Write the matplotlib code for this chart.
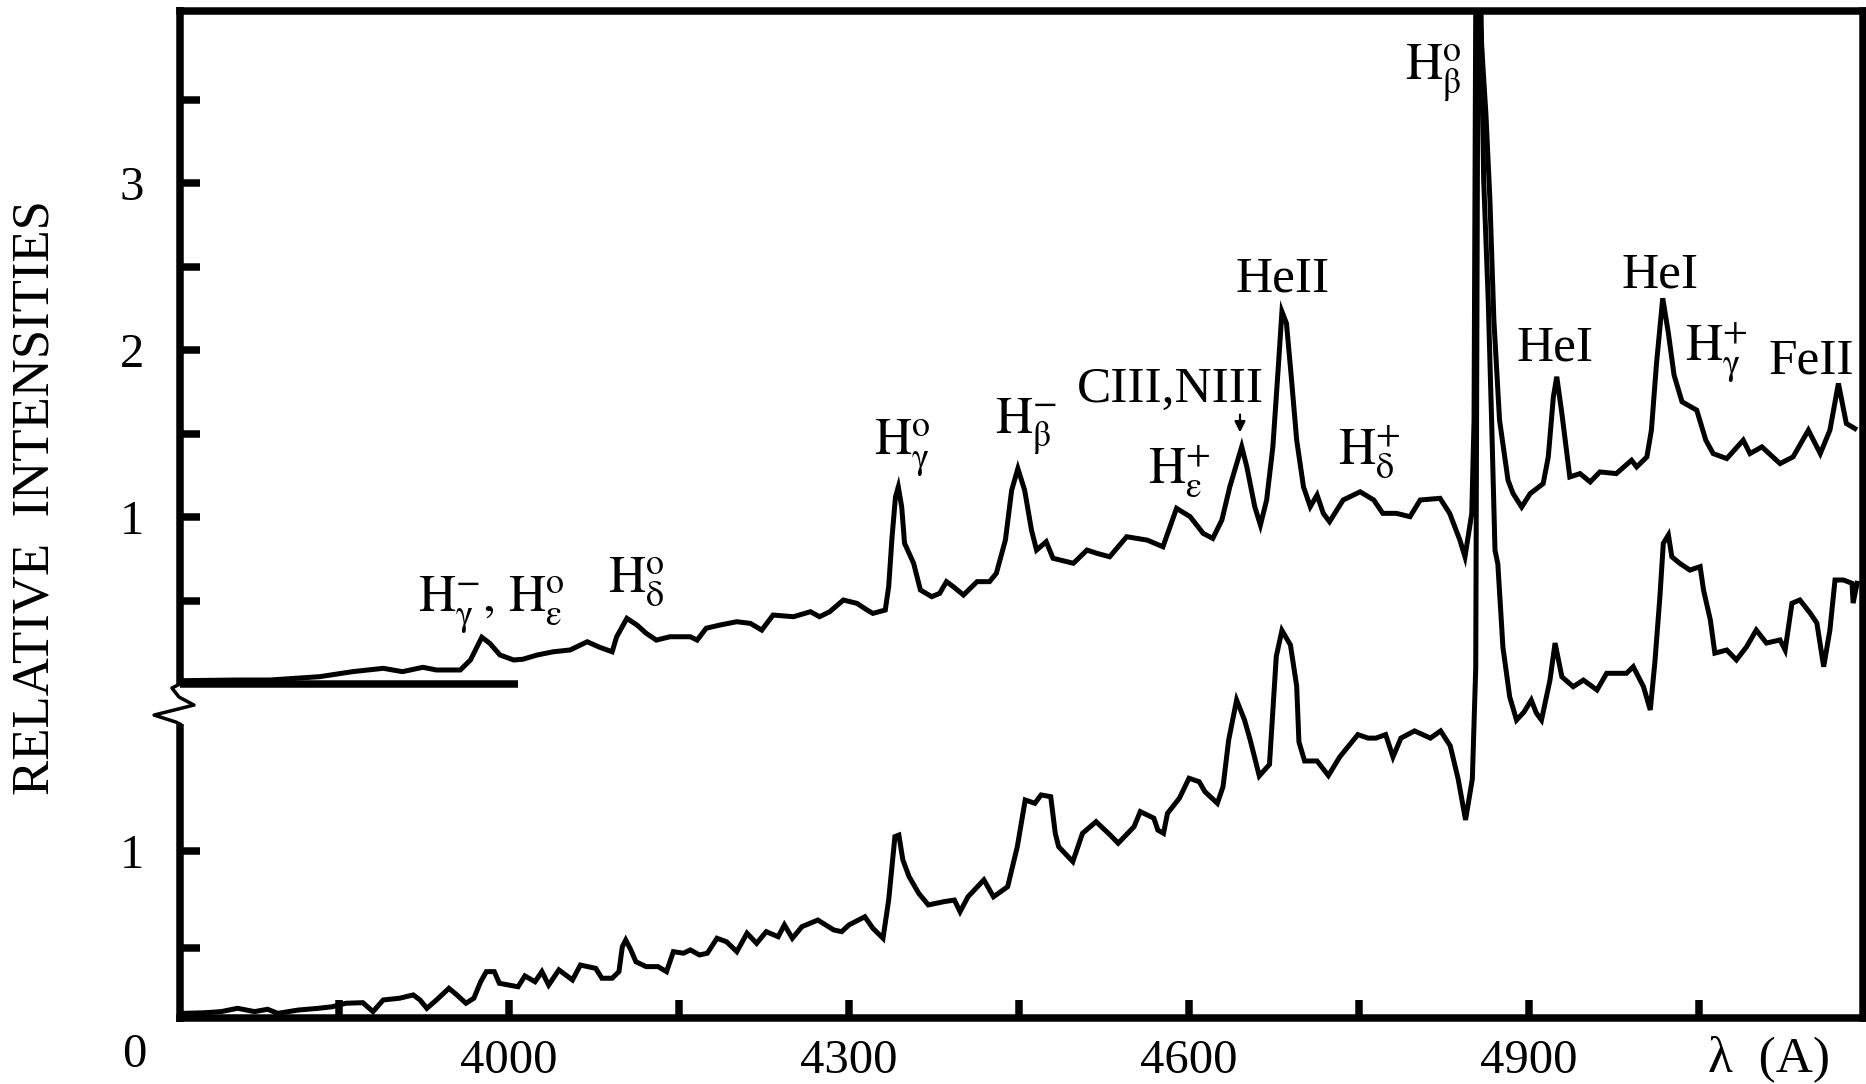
import matplotlib.pyplot as plt
from matplotlib.transforms import blended_transform_factory

plt.rcParams["font.family"] = ["Liberation Serif", "DejaVu Serif"]
plt.rcParams["mathtext.fontset"] = "stix"

# upper spectrum (own intensity scale, drawn above the break)
wl_upper = [3712, 3760, 3789, 3833, 3862, 3889, 3906, 3924, 3936, 3957, 3966, 3976,
            3983, 3992, 4004, 4012, 4025, 4039, 4054, 4069, 4080, 4091, 4095, 4104,
            4113, 4121, 4130, 4142, 4160, 4166, 4174, 4186, 4201, 4213, 4223, 4233,
            4251, 4266, 4274, 4283, 4295, 4307, 4316, 4321, 4332, 4335, 4338, 4341,
            4343.5, 4346.5, 4349, 4357, 4363, 4373, 4380, 4386, 4392, 4401, 4413, 4424,
            4430, 4438, 4443.5, 4449, 4455, 4461, 4465.5, 4474, 4480, 4498, 4510, 4518.5,
            4530, 4545, 4563, 4577, 4589, 4601, 4612.5, 4621, 4629, 4636, 4646.5, 4651,
            4658, 4663, 4668.5, 4674, 4679, 4682, 4686, 4690.5, 4695, 4701, 4707, 4713,
            4718.5, 4724, 4736, 4751, 4763, 4771, 4783, 4795, 4804, 4821.5, 4830, 4839,
            4843.5, 4849.5, 4851.5, 4853, 4856, 4862, 4865.5, 4869, 4874, 4881.5, 4886,
            4893.5, 4901, 4912.5, 4917, 4921.5, 4924.5, 4929, 4936, 4945, 4954, 4962.5,
            4977, 4990.5, 4995, 5004, 5008, 5012.5, 5018, 5023, 5028, 5035, 5048, 5056,
            5062.5, 5074.5, 5089, 5095, 5105.5, 5121.5, 5133, 5146.5, 5157, 5165.5, 5173,
            5180, 5187.5]
int_upper = [0.02, 0.024, 0.024, 0.044, 0.074, 0.094, 0.074, 0.10, 0.084, 0.084, 0.144, 0.28,
             0.244, 0.174, 0.144, 0.148, 0.174, 0.193, 0.204, 0.253, 0.22, 0.193, 0.283, 0.393,
             0.353, 0.304, 0.263, 0.283, 0.283, 0.263, 0.334, 0.353, 0.373, 0.363, 0.323, 0.413,
             0.403, 0.433, 0.403, 0.433, 0.503, 0.483, 0.443, 0.423, 0.443, 0.583, 0.882, 1.12,
             1.18, 1.06, 0.843, 0.723, 0.563, 0.523, 0.543, 0.613, 0.583, 0.533, 0.613, 0.613,
             0.663, 0.862, 1.16, 1.29, 1.16, 0.922, 0.802, 0.852, 0.753, 0.723, 0.802, 0.783,
             0.762, 0.882, 0.862, 0.822, 1.052, 1.002, 0.902, 0.872, 0.982, 1.181, 1.421, 1.301,
             1.062, 0.952, 1.102, 1.421, 1.92, 2.23, 2.16, 1.82, 1.461, 1.181, 1.062, 1.132,
             1.022, 0.972, 1.102, 1.151, 1.102, 1.022, 1.022, 1.002, 1.102, 1.112, 1.022, 0.862,
             0.762, 1.022, 1.58, 4.06, 4.06, 3.41, 2.9, 2.18, 1.58, 1.22, 1.14,
             1.06, 1.14, 1.20, 1.36, 1.72, 1.84, 1.62, 1.24, 1.26, 1.21, 1.27,
             1.26, 1.34, 1.30, 1.36, 1.52, 1.92, 2.31, 2.10, 1.85, 1.69, 1.64, 1.46,
             1.38, 1.35, 1.46, 1.38, 1.42, 1.32, 1.36, 1.52, 1.38, 1.52, 1.80,
             1.56, 1.53]

# lower spectrum
wl_lower = [3713, 3731, 3746, 3760.5, 3775.5, 3787, 3796, 3814, 3832, 3844, 3856, 3871,
            3880, 3889, 3903.5, 3915.5, 3921.5, 3927.5, 3936, 3947, 3954, 3962, 3969, 3975,
            3980, 3987, 3991.5, 4008, 4014, 4023, 4029, 4035, 4044, 4056, 4063, 4076.5,
            4082, 4091, 4097, 4100, 4103, 4107.5, 4112, 4121, 4131.5, 4139, 4145, 4154,
            4160, 4168, 4175, 4183.5, 4192, 4201, 4210, 4218.5, 4227, 4237.5, 4243, 4250,
            4258.5, 4272.5, 4286.5, 4293.5, 4300, 4314, 4321, 4330, 4335, 4340.5, 4344,
            4347.5, 4353, 4361.5, 4370, 4384, 4393, 4398, 4405, 4419, 4427.5, 4440, 4448.5,
            4455.5, 4464, 4469.5, 4478, 4482, 4485, 4497.5, 4506, 4518, 4530.5, 4537.5,
            4551.5, 4557, 4569, 4572.5, 4577.5, 4581, 4591.5, 4600, 4609, 4614, 4625, 4630,
            4635, 4642, 4649, 4654, 4662, 4671, 4677, 4682, 4689.5, 4695, 4697, 4702, 4713,
            4723, 4733, 4749, 4758, 4765, 4773.5, 4780, 4787, 4799, 4813, 4822, 4830.5,
            4837.5, 4844, 4850, 4853, 4855, 4857.5, 4860, 4864, 4867, 4870, 4872.5, 4877,
            4883, 4889, 4895.5, 4902, 4906.5, 4911, 4918.5, 4923, 4929, 4939, 4948, 4960,
            4968.5, 4986, 4992, 5001, 5007, 5011, 5015.5, 5018.5, 5023, 5026, 5033, 5042,
            5051, 5054, 5060, 5064, 5074.5, 5083, 5092, 5100.5, 5109.5, 5121.5, 5126, 5132,
            5139, 5148, 5154, 5160, 5165.5, 5170, 5177.5, 5185, 5186, 5189.5]
int_lower = [0.163, 0.166, 0.172, 0.189, 0.172, 0.184, 0.163, 0.180, 0.189, 0.197, 0.215, 0.218,
             0.172, 0.232, 0.241, 0.258, 0.232, 0.189, 0.232, 0.292, 0.258, 0.215, 0.241, 0.326,
             0.378, 0.378, 0.318, 0.30, 0.356, 0.326, 0.378, 0.309, 0.387, 0.335, 0.412, 0.395,
             0.344, 0.344, 0.378, 0.507, 0.541, 0.49, 0.429, 0.404, 0.404, 0.378, 0.481, 0.473,
             0.49, 0.464, 0.473, 0.55, 0.532, 0.481, 0.576, 0.524, 0.584, 0.558, 0.619, 0.55,
             0.61, 0.644, 0.593, 0.584, 0.619, 0.661, 0.602, 0.55, 0.747, 1.074, 1.082,
             0.954, 0.868, 0.782, 0.722, 0.739, 0.747, 0.687, 0.764, 0.851, 0.764, 0.816, 1.022,
             1.263, 1.246, 1.289, 1.28, 1.091, 1.022, 0.945, 1.091, 1.151, 1.082, 1.04,
             1.125, 1.203, 1.169, 1.108, 1.091, 1.194, 1.272, 1.375, 1.357, 1.306, 1.246, 1.331,
             1.572, 1.778, 1.675, 1.572, 1.387, 1.446, 2.003, 2.137, 2.062, 1.85, 1.562, 1.464, 1.464,
             1.389, 1.485, 1.60, 1.582, 1.582, 1.60, 1.485, 1.582, 1.619, 1.582, 1.619, 1.542,
             1.371, 1.16, 1.371, 1.945, 5.4, 5.4, 4.46, 3.84, 3.22, 2.55, 2.48, 2.05,
             1.794, 1.675, 1.716, 1.778, 1.711, 1.675, 1.881, 2.072, 1.898, 1.847, 1.881, 1.83,
             1.916, 1.916, 1.95, 1.847, 1.727, 1.969, 2.311, 2.586, 2.629, 2.517, 2.483, 2.448,
             2.466, 2.345, 2.191, 2.02, 2.036, 1.985, 2.053, 2.139, 2.072, 2.088, 2.036, 2.277,
             2.294, 2.227, 2.175, 1.95, 2.139, 2.397, 2.397, 2.38, 2.278, 2.38]

# line identifications on the upper spectrum: (text, wavelength, intensity of baseline)
line_ids = [
    (r"$\mathrm{H}_{\mathrm{\gamma}}^{-}\mathrm{,}\ \mathrm{H}_{\mathrm{\varepsilon}}^{\mathrm{o}}$", 3919.7, 0.431),
    (r"$\mathrm{H}_{\mathrm{\delta}}^{\mathrm{o}}$", 4087.4, 0.551),
    (r"$\mathrm{H}_{\mathrm{\gamma}}^{\mathrm{o}}$", 4322.0, 1.371),
    (r"$\mathrm{H}_{\mathrm{\beta}}^{-}$", 4428.8, 1.497),
    ("CIII,NIII", 4501.0, 1.689),
    (r"$\mathrm{H}_{\mathrm{\varepsilon}}^{+}$", 4563.8, 1.204),
    ("HeII", 4640.6, 2.353),
    (r"$\mathrm{H}_{\mathrm{\delta}}^{+}$", 4731.5, 1.311),
    (r"$\mathrm{H}_{\mathrm{\beta}}^{\mathrm{o}}$", 4790.6, 3.617),
    ("HeI", 4889.4, 1.94),
    ("HeI", 4981.2, 2.377),
    (r"$\mathrm{H}_{\mathrm{\gamma}}^{+}$", 5037.6, 1.934),
    ("FeII", 5111.8, 1.862),
]

x_lim = (3709.7, 5194.7)
low_lim = (0.139, 5.332)
up_lim = (-2.0, 4.032)
LW_AX = 5.4
LW_SPEC = 3.6

fig = plt.figure(figsize=(18.66, 10.84), dpi=100)
rect = [180 / 1866, 66 / 1084, 1683 / 1866, 1007.3 / 1084]
ax_low = fig.add_axes(rect)
ax_up = fig.add_axes(rect)
ax_up.patch.set_visible(False)

for ax, ylim in ((ax_low, low_lim), (ax_up, up_lim)):
    ax.set_xlim(*x_lim)
    ax.set_ylim(*ylim)

ax_low.plot(wl_lower, int_lower, color="black", lw=LW_SPEC, solid_joinstyle="miter")
ax_up.plot(wl_upper, int_upper, color="black", lw=LW_SPEC, solid_joinstyle="miter")

# frame
for side in ("top", "right", "bottom"):
    ax_low.spines[side].set_linewidth(LW_AX)
ax_low.spines["left"].set_visible(False)
for s in ax_up.spines.values():
    s.set_visible(False)

# broken left axis
tr_low = blended_transform_factory(ax_low.transAxes, ax_low.transData)
tr_up = blended_transform_factory(ax_up.transAxes, ax_up.transData)
ax_low.plot([0, 0], [low_lim[0] - 0.02, 1.655], transform=tr_low, color="black",
            lw=LW_AX, solid_capstyle="butt", clip_on=False)
ax_up.plot([0, 0], [0, up_lim[1] + 0.02], transform=tr_up, color="black",
           lw=LW_AX, solid_capstyle="butt", clip_on=False)
ax_up.plot([0, -0.0048, -0.0006, 0.0083, -0.0154, -0.0024, 0],
           [0, -0.024, -0.078, -0.126, -0.186, -0.228, -0.24],
           transform=tr_up, color="black", lw=2.5, clip_on=False)
ax_up.plot([x_lim[0], 4008], [0, 0], color="black", lw=LW_AX, solid_capstyle="butt")

# ticks
ax_low.set_xticks([4000, 4300, 4600, 4900])
ax_low.set_xticks([3850, 4150, 4450, 4750, 5050], minor=True)
ax_low.set_yticks([1])
ax_low.set_yticks([0.5], minor=True)
ax_up.set_yticks([1, 2, 3])
ax_up.set_yticks([0.5, 1.5, 2.5, 3.5], minor=True)
ax_up.set_xticks([])
ax_up.set_xticks([], minor=True)

ax_low.tick_params(axis="x", which="both", direction="in", length=13, width=LW_AX,
                   labelsize=35, pad=15, top=False)
ax_low.tick_params(axis="y", which="both", direction="in", length=14.5, width=LW_AX,
                   labelsize=35, pad=26, right=False)
ax_up.tick_params(axis="y", which="both", direction="in", length=14.5, width=LW_AX,
                  labelsize=35, pad=26, right=False)

ax_low.annotate("0", xy=(0, 0), xycoords=tr_low, xytext=(-24, -7),
                textcoords="offset points", ha="right", va="center", fontsize=35,
                annotation_clip=False)

for text, wl, val in line_ids:
    ax_up.text(wl, val, text, fontsize=37, ha="left", va="baseline")

ax_up.annotate("", xy=(4645, 1.49), xytext=(4645, 1.63),
               arrowprops=dict(arrowstyle="-|>", color="black", lw=1.6, mutation_scale=16))

fig.text(36 / 1866, 1 - 498 / 1084, "RELATIVE  INTENSITIES", rotation=90,
         ha="center", va="center", fontsize=38)
fig.text(1708 / 1866, 1 - 1071 / 1084, "λ  (A)", ha="left", va="baseline", fontsize=37)

fig.savefig("out.png", dpi=100)
